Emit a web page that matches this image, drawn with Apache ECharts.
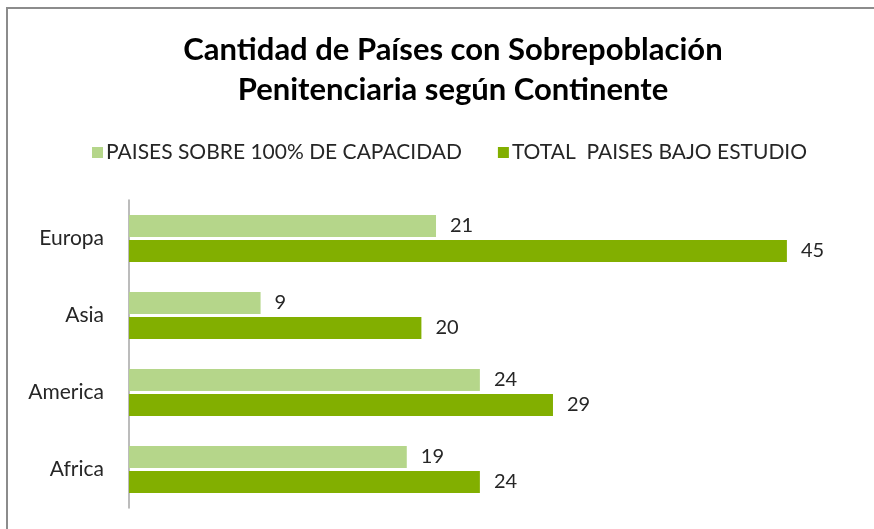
<!DOCTYPE html>
<html><head><meta charset="utf-8">
<script src="https://cdn.jsdelivr.net/npm/echarts@6/dist/echarts.min.js"></script>
<style>html,body{margin:0;padding:0;background:#fff;}#c{width:874px;height:529px;}</style>
</head><body><div id="c"></div>
<script>
const categories = ['Europa', 'Asia', 'America', 'Africa'];
const seriesNames = ['PAISES SOBRE 100% DE CAPACIDAD', 'TOTAL  PAISES BAJO ESTUDIO'];
const sobreCapacidad = [21, 9, 24, 19];
const totalPaises = [45, 20, 29, 24];
const titleText = 'Cantidad de Países con Sobrepoblación\nPenitenciaria según Continente';

const FONT = 'Lato, "Open Sans", sans-serif';
const chart = echarts.init(document.getElementById('c'), null, {renderer: 'canvas'});
const labelCfg = {show: true, position: 'right', distance: 14, color: '#262626', fontSize: 20, fontFamily: FONT};
chart.setOption({
  animation: false,
  graphic: [{type: 'rect', shape: {x: 7, y: 8, width: 900, height: 600}, style: {fill: 'none', stroke: '#8c8c8c', lineWidth: 2}, silent: true}],
  title: {text: titleText, left: 448, top: 25, textAlign: 'center',
    textStyle: {fontFamily: FONT, fontWeight: 'bold', fontSize: 31, lineHeight: 40, color: '#000'}},
  legend: {left: 87, top: 137, itemWidth: 11, itemHeight: 11, itemGap: 36,
    icon: 'rect', textStyle: {fontFamily: FONT, fontSize: 21, color: '#262626', padding: [0,0,0,-2]}},
  grid: {left: 129, top: 200, height: 308, right: 14, containLabel: false},
  xAxis: {type: 'value', min: 0, max: 50, show: false, splitLine: {show: false}},
  yAxis: {type: 'category', data: categories, inverse: true,
    axisLine: {show: true, lineStyle: {color: '#a6a6a6', width: 1.5}},
    axisTick: {show: false},
    axisLabel: {fontFamily: FONT, fontSize: 21, color: '#262626', margin: 25}},
  series: [
    {name: seriesNames[0], type: 'bar', data: sobreCapacidad, barWidth: 22, barGap: '14%',
      itemStyle: {color: '#b5d68a'}, label: labelCfg},
    {name: seriesNames[1], type: 'bar', data: totalPaises, barWidth: 22,
      itemStyle: {color: '#82af00'}, label: labelCfg}
  ]
});
</script></body></html>
